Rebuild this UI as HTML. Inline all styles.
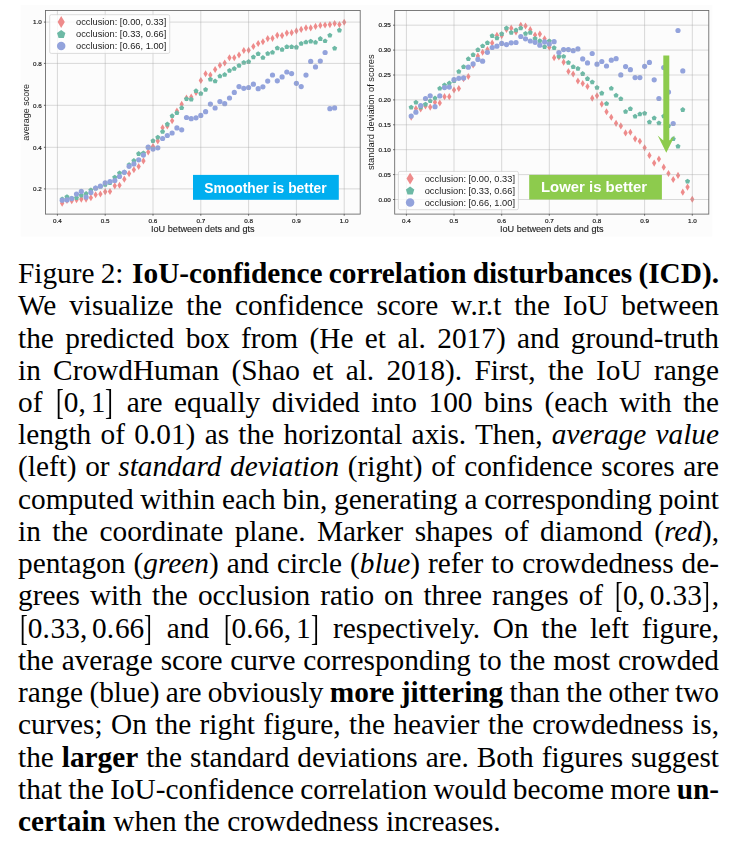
<!DOCTYPE html>
<html><head><meta charset="utf-8"><title>Figure 2</title>
<style>
html,body{margin:0;padding:0;background:#fff}
body{position:relative;width:738px;height:848px;overflow:hidden;font-family:"Liberation Serif",serif;color:#000}
.l{position:absolute;left:18.0px;height:32.23px;line-height:32.23px;font-size:29.32px;white-space:nowrap}.m{letter-spacing:0}.bo,.bc{display:inline-block;transform:scale(0.8,1.23)}.bo{transform-origin:100% 57%}.bc{transform-origin:0% 57%}.p{letter-spacing:0.028em}.ts{display:inline-block;width:0.167em}.cs{display:inline-block;width:2.5px}
</style></head><body>
<svg width="738" height="245" viewBox="0 0 738 245" font-family="Liberation Sans, sans-serif" style="position:absolute;left:0;top:0">
<rect x="20.7" y="5" width="691.7" height="231.6" fill="#fcfcfc"/>
<g filter="url(#b)">
<defs><filter id="b" x="-5%" y="-5%" width="110%" height="110%"><feGaussianBlur stdDeviation="0.45"/></filter></defs>
<path d="M62.2 199.6L64.3 203.2L62.2 206.7L60.0 203.2Z" fill="#ee8b8b"/>
<path d="M67.0 196.9L69.1 200.5L67.0 204.0L64.8 200.5Z" fill="#ee8b8b"/>
<path d="M71.7 197.2L73.9 200.7L71.7 204.3L69.6 200.7Z" fill="#ee8b8b"/>
<path d="M76.5 196.2L78.7 199.8L76.5 203.3L74.4 199.8Z" fill="#ee8b8b"/>
<path d="M81.3 195.6L83.5 199.1L81.3 202.7L79.1 199.1Z" fill="#ee8b8b"/>
<path d="M86.1 195.6L88.2 199.1L86.1 202.7L83.9 199.1Z" fill="#ee8b8b"/>
<path d="M90.9 194.2L93.0 197.8L90.9 201.3L88.7 197.8Z" fill="#ee8b8b"/>
<path d="M95.6 191.2L97.8 194.8L95.6 198.3L93.5 194.8Z" fill="#ee8b8b"/>
<path d="M100.4 190.4L102.6 194.0L100.4 197.5L98.3 194.0Z" fill="#ee8b8b"/>
<path d="M105.2 188.2L107.4 191.8L105.2 195.3L103.0 191.8Z" fill="#ee8b8b"/>
<path d="M110.0 188.0L112.1 191.5L110.0 195.1L107.8 191.5Z" fill="#ee8b8b"/>
<path d="M114.8 182.3L116.9 185.8L114.8 189.4L112.6 185.8Z" fill="#ee8b8b"/>
<path d="M119.5 181.7L121.7 185.3L119.5 188.8L117.4 185.3Z" fill="#ee8b8b"/>
<path d="M124.3 175.6L126.5 179.2L124.3 182.7L122.2 179.2Z" fill="#ee8b8b"/>
<path d="M129.1 170.1L131.2 173.6L129.1 177.2L126.9 173.6Z" fill="#ee8b8b"/>
<path d="M133.9 166.2L136.0 169.7L133.9 173.3L131.7 169.7Z" fill="#ee8b8b"/>
<path d="M138.7 163.0L140.8 166.6L138.7 170.1L136.5 166.6Z" fill="#ee8b8b"/>
<path d="M143.4 157.3L145.6 160.9L143.4 164.4L141.3 160.9Z" fill="#ee8b8b"/>
<path d="M148.2 148.4L150.4 152.0L148.2 155.6L146.1 152.0Z" fill="#ee8b8b"/>
<path d="M153.0 143.0L155.2 146.6L153.0 150.2L150.8 146.6Z" fill="#ee8b8b"/>
<path d="M157.8 137.3L159.9 140.9L157.8 144.5L155.6 140.9Z" fill="#ee8b8b"/>
<path d="M162.6 124.2L164.7 127.7L162.6 131.2L160.4 127.7Z" fill="#ee8b8b"/>
<path d="M167.3 122.4L169.5 125.9L167.3 129.5L165.2 125.9Z" fill="#ee8b8b"/>
<path d="M172.1 117.2L174.3 120.8L172.1 124.3L170.0 120.8Z" fill="#ee8b8b"/>
<path d="M176.9 107.5L179.1 111.1L176.9 114.6L174.8 111.1Z" fill="#ee8b8b"/>
<path d="M181.7 100.8L183.8 104.3L181.7 107.8L179.5 104.3Z" fill="#ee8b8b"/>
<path d="M186.5 94.5L188.6 98.0L186.5 101.5L184.3 98.0Z" fill="#ee8b8b"/>
<path d="M191.2 93.5L193.4 97.0L191.2 100.5L189.1 97.0Z" fill="#ee8b8b"/>
<path d="M196.0 89.0L198.2 92.5L196.0 96.0L193.9 92.5Z" fill="#ee8b8b"/>
<path d="M200.8 77.0L203.0 80.6L200.8 84.1L198.7 80.6Z" fill="#ee8b8b"/>
<path d="M205.6 70.2L207.7 73.7L205.6 77.2L203.4 73.7Z" fill="#ee8b8b"/>
<path d="M210.4 71.5L212.5 75.1L210.4 78.6L208.2 75.1Z" fill="#ee8b8b"/>
<path d="M215.1 66.0L217.3 69.6L215.1 73.1L213.0 69.6Z" fill="#ee8b8b"/>
<path d="M219.9 61.7L222.1 65.2L219.9 68.8L217.8 65.2Z" fill="#ee8b8b"/>
<path d="M224.7 59.4L226.9 62.9L224.7 66.5L222.6 62.9Z" fill="#ee8b8b"/>
<path d="M229.5 54.2L231.6 57.7L229.5 61.2L227.3 57.7Z" fill="#ee8b8b"/>
<path d="M234.3 54.2L236.4 57.7L234.3 61.2L232.1 57.7Z" fill="#ee8b8b"/>
<path d="M239.0 51.5L241.2 55.0L239.0 58.5L236.9 55.0Z" fill="#ee8b8b"/>
<path d="M243.8 46.9L246.0 50.4L243.8 53.9L241.7 50.4Z" fill="#ee8b8b"/>
<path d="M248.6 46.7L250.8 50.2L248.6 53.8L246.5 50.2Z" fill="#ee8b8b"/>
<path d="M253.4 43.0L255.5 46.5L253.4 50.1L251.2 46.5Z" fill="#ee8b8b"/>
<path d="M258.2 40.0L260.3 43.5L258.2 47.1L256.0 43.5Z" fill="#ee8b8b"/>
<path d="M262.9 38.2L265.1 41.7L262.9 45.3L260.8 41.7Z" fill="#ee8b8b"/>
<path d="M267.7 35.1L269.9 38.6L267.7 42.2L265.6 38.6Z" fill="#ee8b8b"/>
<path d="M272.5 34.8L274.6 38.3L272.5 41.9L270.4 38.3Z" fill="#ee8b8b"/>
<path d="M277.3 31.8L279.4 35.3L277.3 38.9L275.1 35.3Z" fill="#ee8b8b"/>
<path d="M282.1 32.1L284.2 35.6L282.1 39.2L279.9 35.6Z" fill="#ee8b8b"/>
<path d="M286.8 29.6L289.0 33.1L286.8 36.7L284.7 33.1Z" fill="#ee8b8b"/>
<path d="M291.6 29.1L293.8 32.7L291.6 36.2L289.5 32.7Z" fill="#ee8b8b"/>
<path d="M296.4 27.3L298.5 30.9L296.4 34.4L294.2 30.9Z" fill="#ee8b8b"/>
<path d="M301.2 25.8L303.3 29.4L301.2 32.9L299.0 29.4Z" fill="#ee8b8b"/>
<path d="M306.0 24.3L308.1 27.9L306.0 31.4L303.8 27.9Z" fill="#ee8b8b"/>
<path d="M310.7 24.3L312.9 27.9L310.7 31.4L308.6 27.9Z" fill="#ee8b8b"/>
<path d="M315.5 22.8L317.7 26.4L315.5 29.9L313.4 26.4Z" fill="#ee8b8b"/>
<path d="M320.3 21.8L322.4 25.4L320.3 28.9L318.2 25.4Z" fill="#ee8b8b"/>
<path d="M325.1 21.4L327.2 24.9L325.1 28.5L322.9 24.9Z" fill="#ee8b8b"/>
<path d="M329.9 21.1L332.0 24.6L329.9 28.2L327.7 24.6Z" fill="#ee8b8b"/>
<path d="M334.6 19.9L336.8 23.4L334.6 27.0L332.5 23.4Z" fill="#ee8b8b"/>
<path d="M339.4 20.9L341.6 24.5L339.4 28.0L337.3 24.5Z" fill="#ee8b8b"/>
<path d="M344.2 18.7L346.3 22.2L344.2 25.8L342.1 22.2Z" fill="#ee8b8b"/>
<path d="M62.2 196.5L64.7 198.3L63.7 201.2L60.6 201.2L59.7 198.3Z" fill="#6db9a5"/>
<path d="M67.0 194.2L69.5 196.0L68.5 198.9L65.4 198.9L64.4 196.0Z" fill="#6db9a5"/>
<path d="M71.7 195.8L74.3 197.6L73.3 200.6L70.2 200.6L69.2 197.6Z" fill="#6db9a5"/>
<path d="M76.5 195.1L79.0 196.9L78.1 199.9L75.0 199.9L74.0 196.9Z" fill="#6db9a5"/>
<path d="M81.3 192.8L83.8 194.6L82.9 197.6L79.7 197.6L78.8 194.6Z" fill="#6db9a5"/>
<path d="M86.1 191.0L88.6 192.9L87.6 195.8L84.5 195.8L83.6 192.9Z" fill="#6db9a5"/>
<path d="M90.9 187.4L93.4 189.2L92.4 192.2L89.3 192.2L88.3 189.2Z" fill="#6db9a5"/>
<path d="M95.6 185.6L98.2 187.4L97.2 190.4L94.1 190.4L93.1 187.4Z" fill="#6db9a5"/>
<path d="M100.4 183.9L102.9 185.7L102.0 188.6L98.9 188.6L97.9 185.7Z" fill="#6db9a5"/>
<path d="M105.2 182.0L107.7 183.8L106.8 186.8L103.6 186.8L102.7 183.8Z" fill="#6db9a5"/>
<path d="M110.0 180.2L112.5 182.0L111.5 185.0L108.4 185.0L107.5 182.0Z" fill="#6db9a5"/>
<path d="M114.8 174.8L117.3 176.6L116.3 179.6L113.2 179.6L112.2 176.6Z" fill="#6db9a5"/>
<path d="M119.5 170.4L122.1 172.3L121.1 175.2L118.0 175.2L117.0 172.3Z" fill="#6db9a5"/>
<path d="M124.3 169.6L126.8 171.5L125.9 174.4L122.8 174.4L121.8 171.5Z" fill="#6db9a5"/>
<path d="M129.1 162.3L131.6 164.1L130.7 167.1L127.5 167.1L126.6 164.1Z" fill="#6db9a5"/>
<path d="M133.9 158.1L136.4 159.9L135.4 162.9L132.3 162.9L131.4 159.9Z" fill="#6db9a5"/>
<path d="M138.7 151.1L141.2 152.9L140.2 155.9L137.1 155.9L136.1 152.9Z" fill="#6db9a5"/>
<path d="M143.4 150.4L146.0 152.2L145.0 155.2L141.9 155.2L140.9 152.2Z" fill="#6db9a5"/>
<path d="M148.2 144.8L150.7 146.7L149.8 149.6L146.7 149.6L145.7 146.7Z" fill="#6db9a5"/>
<path d="M153.0 138.2L155.5 140.1L154.6 143.0L151.4 143.0L150.5 140.1Z" fill="#6db9a5"/>
<path d="M157.8 134.8L160.3 136.6L159.3 139.5L156.2 139.5L155.3 136.6Z" fill="#6db9a5"/>
<path d="M162.6 129.0L165.1 130.9L164.1 133.8L161.0 133.8L160.0 130.9Z" fill="#6db9a5"/>
<path d="M167.3 121.6L169.9 123.5L168.9 126.4L165.8 126.4L164.8 123.5Z" fill="#6db9a5"/>
<path d="M172.1 113.3L174.6 115.2L173.7 118.1L170.6 118.1L169.6 115.2Z" fill="#6db9a5"/>
<path d="M176.9 110.3L179.4 112.2L178.5 115.1L175.3 115.1L174.4 112.2Z" fill="#6db9a5"/>
<path d="M181.7 105.3L184.2 107.2L183.2 110.1L180.1 110.1L179.2 107.2Z" fill="#6db9a5"/>
<path d="M186.5 96.3L189.0 98.2L188.0 101.1L184.9 101.1L183.9 98.2Z" fill="#6db9a5"/>
<path d="M191.2 96.8L193.8 98.7L192.8 101.6L189.7 101.6L188.7 98.7Z" fill="#6db9a5"/>
<path d="M196.0 88.3L198.5 90.2L197.6 93.1L194.5 93.1L193.5 90.2Z" fill="#6db9a5"/>
<path d="M200.8 90.9L203.3 92.8L202.4 95.7L199.2 95.7L198.3 92.8Z" fill="#6db9a5"/>
<path d="M205.6 86.9L208.1 88.8L207.1 91.7L204.0 91.7L203.1 88.8Z" fill="#6db9a5"/>
<path d="M210.4 76.8L212.9 78.6L211.9 81.5L208.8 81.5L207.8 78.6Z" fill="#6db9a5"/>
<path d="M215.1 78.5L217.7 80.4L216.7 83.3L213.6 83.3L212.6 80.4Z" fill="#6db9a5"/>
<path d="M219.9 73.5L222.4 75.4L221.5 78.3L218.4 78.3L217.4 75.4Z" fill="#6db9a5"/>
<path d="M224.7 72.0L227.2 73.9L226.3 76.8L223.1 76.8L222.2 73.9Z" fill="#6db9a5"/>
<path d="M229.5 67.9L232.0 69.8L231.0 72.7L227.9 72.7L227.0 69.8Z" fill="#6db9a5"/>
<path d="M234.3 66.0L236.8 67.9L235.8 70.8L232.7 70.8L231.7 67.9Z" fill="#6db9a5"/>
<path d="M239.0 62.9L241.6 64.8L240.6 67.7L237.5 67.7L236.5 64.8Z" fill="#6db9a5"/>
<path d="M243.8 60.0L246.3 61.8L245.4 64.7L242.3 64.7L241.3 61.8Z" fill="#6db9a5"/>
<path d="M248.6 59.1L251.1 60.9L250.2 63.9L247.0 63.9L246.1 60.9Z" fill="#6db9a5"/>
<path d="M253.4 54.5L255.9 56.3L254.9 59.2L251.8 59.2L250.9 56.3Z" fill="#6db9a5"/>
<path d="M258.2 51.2L260.7 53.0L259.7 56.0L256.6 56.0L255.6 53.0Z" fill="#6db9a5"/>
<path d="M262.9 55.0L265.5 56.9L264.5 59.8L261.4 59.8L260.4 56.9Z" fill="#6db9a5"/>
<path d="M267.7 50.9L270.2 52.7L269.3 55.7L266.2 55.7L265.2 52.7Z" fill="#6db9a5"/>
<path d="M272.5 49.8L275.0 51.7L274.1 54.6L270.9 54.6L270.0 51.7Z" fill="#6db9a5"/>
<path d="M277.3 45.5L279.8 47.3L278.8 50.3L275.7 50.3L274.8 47.3Z" fill="#6db9a5"/>
<path d="M282.1 47.0L284.6 48.8L283.6 51.8L280.5 51.8L279.5 48.8Z" fill="#6db9a5"/>
<path d="M286.8 44.2L289.4 46.0L288.4 49.0L285.3 49.0L284.3 46.0Z" fill="#6db9a5"/>
<path d="M291.6 44.3L294.1 46.1L293.2 49.1L290.1 49.1L289.1 46.1Z" fill="#6db9a5"/>
<path d="M296.4 44.6L298.9 46.4L298.0 49.4L294.8 49.4L293.9 46.4Z" fill="#6db9a5"/>
<path d="M301.2 40.9L303.7 42.7L302.7 45.7L299.6 45.7L298.7 42.7Z" fill="#6db9a5"/>
<path d="M306.0 39.5L308.5 41.4L307.5 44.3L304.4 44.3L303.4 41.4Z" fill="#6db9a5"/>
<path d="M310.7 38.7L313.3 40.5L312.3 43.4L309.2 43.4L308.2 40.5Z" fill="#6db9a5"/>
<path d="M315.5 39.8L318.0 41.7L317.1 44.6L314.0 44.6L313.0 41.7Z" fill="#6db9a5"/>
<path d="M320.3 36.1L322.8 37.9L321.9 40.9L318.7 40.9L317.8 37.9Z" fill="#6db9a5"/>
<path d="M325.1 38.4L327.6 40.2L326.6 43.1L323.5 43.1L322.6 40.2Z" fill="#6db9a5"/>
<path d="M329.9 32.7L332.4 34.5L331.4 37.5L328.3 37.5L327.3 34.5Z" fill="#6db9a5"/>
<path d="M334.6 45.8L337.2 47.6L336.2 50.6L333.1 50.6L332.1 47.6Z" fill="#6db9a5"/>
<path d="M339.4 27.6L341.9 29.5L341.0 32.4L337.9 32.4L336.9 29.5Z" fill="#6db9a5"/>
<circle cx="62.2" cy="200.2" r="2.6" fill="#93a3dc"/>
<circle cx="67.0" cy="199.9" r="2.6" fill="#93a3dc"/>
<circle cx="71.7" cy="198.6" r="2.6" fill="#93a3dc"/>
<circle cx="76.5" cy="194.1" r="2.6" fill="#93a3dc"/>
<circle cx="81.3" cy="191.4" r="2.6" fill="#93a3dc"/>
<circle cx="86.1" cy="197.1" r="2.6" fill="#93a3dc"/>
<circle cx="90.9" cy="192.6" r="2.6" fill="#93a3dc"/>
<circle cx="95.6" cy="188.0" r="2.6" fill="#93a3dc"/>
<circle cx="100.4" cy="186.2" r="2.6" fill="#93a3dc"/>
<circle cx="105.2" cy="182.8" r="2.6" fill="#93a3dc"/>
<circle cx="110.0" cy="181.5" r="2.6" fill="#93a3dc"/>
<circle cx="114.8" cy="180.5" r="2.6" fill="#93a3dc"/>
<circle cx="119.5" cy="176.5" r="2.6" fill="#93a3dc"/>
<circle cx="124.3" cy="172.3" r="2.6" fill="#93a3dc"/>
<circle cx="129.1" cy="166.3" r="2.6" fill="#93a3dc"/>
<circle cx="133.9" cy="163.9" r="2.6" fill="#93a3dc"/>
<circle cx="138.7" cy="159.8" r="2.6" fill="#93a3dc"/>
<circle cx="143.4" cy="155.1" r="2.6" fill="#93a3dc"/>
<circle cx="148.2" cy="147.2" r="2.6" fill="#93a3dc"/>
<circle cx="153.0" cy="149.1" r="2.6" fill="#93a3dc"/>
<circle cx="157.8" cy="147.8" r="2.6" fill="#93a3dc"/>
<circle cx="162.6" cy="138.5" r="2.6" fill="#93a3dc"/>
<circle cx="167.3" cy="135.5" r="2.6" fill="#93a3dc"/>
<circle cx="172.1" cy="133.0" r="2.6" fill="#93a3dc"/>
<circle cx="176.9" cy="127.9" r="2.6" fill="#93a3dc"/>
<circle cx="181.7" cy="129.8" r="2.6" fill="#93a3dc"/>
<circle cx="186.5" cy="117.5" r="2.6" fill="#93a3dc"/>
<circle cx="191.2" cy="118.7" r="2.6" fill="#93a3dc"/>
<circle cx="196.0" cy="117.8" r="2.6" fill="#93a3dc"/>
<circle cx="200.8" cy="115.4" r="2.6" fill="#93a3dc"/>
<circle cx="205.6" cy="111.7" r="2.6" fill="#93a3dc"/>
<circle cx="210.4" cy="104.1" r="2.6" fill="#93a3dc"/>
<circle cx="215.1" cy="108.0" r="2.6" fill="#93a3dc"/>
<circle cx="219.9" cy="101.6" r="2.6" fill="#93a3dc"/>
<circle cx="224.7" cy="103.7" r="2.6" fill="#93a3dc"/>
<circle cx="229.5" cy="98.0" r="2.6" fill="#93a3dc"/>
<circle cx="234.3" cy="92.4" r="2.6" fill="#93a3dc"/>
<circle cx="239.0" cy="86.6" r="2.6" fill="#93a3dc"/>
<circle cx="243.8" cy="88.3" r="2.6" fill="#93a3dc"/>
<circle cx="248.6" cy="87.5" r="2.6" fill="#93a3dc"/>
<circle cx="253.4" cy="84.2" r="2.6" fill="#93a3dc"/>
<circle cx="258.2" cy="88.7" r="2.6" fill="#93a3dc"/>
<circle cx="262.9" cy="86.8" r="2.6" fill="#93a3dc"/>
<circle cx="267.7" cy="81.1" r="2.6" fill="#93a3dc"/>
<circle cx="272.5" cy="75.0" r="2.6" fill="#93a3dc"/>
<circle cx="277.3" cy="80.8" r="2.6" fill="#93a3dc"/>
<circle cx="282.1" cy="76.9" r="2.6" fill="#93a3dc"/>
<circle cx="286.8" cy="72.0" r="2.6" fill="#93a3dc"/>
<circle cx="291.6" cy="73.6" r="2.6" fill="#93a3dc"/>
<circle cx="296.4" cy="83.3" r="2.6" fill="#93a3dc"/>
<circle cx="301.2" cy="86.6" r="2.6" fill="#93a3dc"/>
<circle cx="306.0" cy="75.1" r="2.6" fill="#93a3dc"/>
<circle cx="310.7" cy="61.4" r="2.6" fill="#93a3dc"/>
<circle cx="315.5" cy="66.9" r="2.6" fill="#93a3dc"/>
<circle cx="320.3" cy="61.1" r="2.6" fill="#93a3dc"/>
<circle cx="325.1" cy="52.5" r="2.6" fill="#93a3dc"/>
<circle cx="329.9" cy="108.7" r="2.6" fill="#93a3dc"/>
<circle cx="334.6" cy="107.9" r="2.6" fill="#93a3dc"/>
<line x1="57.4" y1="10.5" x2="57.4" y2="214.1" stroke="#9c9c9c" stroke-width="0.7" stroke-opacity="0.55"/>
<line x1="105.2" y1="10.5" x2="105.2" y2="214.1" stroke="#9c9c9c" stroke-width="0.7" stroke-opacity="0.55"/>
<line x1="153.0" y1="10.5" x2="153.0" y2="214.1" stroke="#9c9c9c" stroke-width="0.7" stroke-opacity="0.55"/>
<line x1="200.8" y1="10.5" x2="200.8" y2="214.1" stroke="#9c9c9c" stroke-width="0.7" stroke-opacity="0.55"/>
<line x1="248.6" y1="10.5" x2="248.6" y2="214.1" stroke="#9c9c9c" stroke-width="0.7" stroke-opacity="0.55"/>
<line x1="296.4" y1="10.5" x2="296.4" y2="214.1" stroke="#9c9c9c" stroke-width="0.7" stroke-opacity="0.55"/>
<line x1="344.2" y1="10.5" x2="344.2" y2="214.1" stroke="#9c9c9c" stroke-width="0.7" stroke-opacity="0.55"/>
<line x1="45.5" y1="188.9" x2="360.2" y2="188.9" stroke="#a8a8a8" stroke-width="1.0" stroke-opacity="0.42"/>
<line x1="45.5" y1="147.3" x2="360.2" y2="147.3" stroke="#a8a8a8" stroke-width="1.0" stroke-opacity="0.42"/>
<line x1="45.5" y1="105.3" x2="360.2" y2="105.3" stroke="#a8a8a8" stroke-width="1.0" stroke-opacity="0.42"/>
<line x1="45.5" y1="63.4" x2="360.2" y2="63.4" stroke="#a8a8a8" stroke-width="1.0" stroke-opacity="0.42"/>
<line x1="45.5" y1="22.1" x2="360.2" y2="22.1" stroke="#a8a8a8" stroke-width="1.0" stroke-opacity="0.42"/>
<rect x="45.5" y="10.5" width="314.7" height="203.6" fill="none" stroke="#666666" stroke-width="0.85"/>
<line x1="57.4" y1="214.1" x2="57.4" y2="215.7" stroke="#444" stroke-width="0.8"/>
<text x="57.4" y="222.79999999999998" font-size="6.1" text-anchor="middle" textLength="8.8" lengthAdjust="spacingAndGlyphs" fill="#1c1c1c" stroke="#1c1c1c" stroke-width="0.18">0.4</text>
<line x1="105.2" y1="214.1" x2="105.2" y2="215.7" stroke="#444" stroke-width="0.8"/>
<text x="105.2" y="222.79999999999998" font-size="6.1" text-anchor="middle" textLength="8.8" lengthAdjust="spacingAndGlyphs" fill="#1c1c1c" stroke="#1c1c1c" stroke-width="0.18">0.5</text>
<line x1="153.0" y1="214.1" x2="153.0" y2="215.7" stroke="#444" stroke-width="0.8"/>
<text x="153.0" y="222.79999999999998" font-size="6.1" text-anchor="middle" textLength="8.8" lengthAdjust="spacingAndGlyphs" fill="#1c1c1c" stroke="#1c1c1c" stroke-width="0.18">0.6</text>
<line x1="200.8" y1="214.1" x2="200.8" y2="215.7" stroke="#444" stroke-width="0.8"/>
<text x="200.8" y="222.79999999999998" font-size="6.1" text-anchor="middle" textLength="8.8" lengthAdjust="spacingAndGlyphs" fill="#1c1c1c" stroke="#1c1c1c" stroke-width="0.18">0.7</text>
<line x1="248.6" y1="214.1" x2="248.6" y2="215.7" stroke="#444" stroke-width="0.8"/>
<text x="248.6" y="222.79999999999998" font-size="6.1" text-anchor="middle" textLength="8.8" lengthAdjust="spacingAndGlyphs" fill="#1c1c1c" stroke="#1c1c1c" stroke-width="0.18">0.8</text>
<line x1="296.4" y1="214.1" x2="296.4" y2="215.7" stroke="#444" stroke-width="0.8"/>
<text x="296.4" y="222.79999999999998" font-size="6.1" text-anchor="middle" textLength="8.8" lengthAdjust="spacingAndGlyphs" fill="#1c1c1c" stroke="#1c1c1c" stroke-width="0.18">0.9</text>
<line x1="344.2" y1="214.1" x2="344.2" y2="215.7" stroke="#444" stroke-width="0.8"/>
<text x="344.2" y="222.79999999999998" font-size="6.1" text-anchor="middle" textLength="8.8" lengthAdjust="spacingAndGlyphs" fill="#1c1c1c" stroke="#1c1c1c" stroke-width="0.18">1.0</text>
<line x1="43.9" y1="188.9" x2="45.5" y2="188.9" stroke="#444" stroke-width="0.8"/>
<text x="41.7" y="191.1" font-size="6.1" text-anchor="end" textLength="8.8" lengthAdjust="spacingAndGlyphs" fill="#1c1c1c" stroke="#1c1c1c" stroke-width="0.18">0.2</text>
<line x1="43.9" y1="147.3" x2="45.5" y2="147.3" stroke="#444" stroke-width="0.8"/>
<text x="41.7" y="149.5" font-size="6.1" text-anchor="end" textLength="8.8" lengthAdjust="spacingAndGlyphs" fill="#1c1c1c" stroke="#1c1c1c" stroke-width="0.18">0.4</text>
<line x1="43.9" y1="105.3" x2="45.5" y2="105.3" stroke="#444" stroke-width="0.8"/>
<text x="41.7" y="107.5" font-size="6.1" text-anchor="end" textLength="8.8" lengthAdjust="spacingAndGlyphs" fill="#1c1c1c" stroke="#1c1c1c" stroke-width="0.18">0.6</text>
<line x1="43.9" y1="63.4" x2="45.5" y2="63.4" stroke="#444" stroke-width="0.8"/>
<text x="41.7" y="65.5" font-size="6.1" text-anchor="end" textLength="8.8" lengthAdjust="spacingAndGlyphs" fill="#1c1c1c" stroke="#1c1c1c" stroke-width="0.18">0.8</text>
<line x1="43.9" y1="22.1" x2="45.5" y2="22.1" stroke="#444" stroke-width="0.8"/>
<text x="41.7" y="24.2" font-size="6.1" text-anchor="end" textLength="8.8" lengthAdjust="spacingAndGlyphs" fill="#1c1c1c" stroke="#1c1c1c" stroke-width="0.18">1.0</text>
<text x="202.8" y="232" font-size="9.3" text-anchor="middle" textLength="103.7" lengthAdjust="spacingAndGlyphs" fill="#1c1c1c" stroke="#1c1c1c" stroke-width="0.12">IoU between dets and gts</text>
<text transform="translate(29.0 112.3) rotate(-90)" font-size="9.3" text-anchor="middle" textLength="56.8" lengthAdjust="spacingAndGlyphs" fill="#1c1c1c">average score</text>
<rect x="49.7" y="14.7" width="120.0" height="38.7" rx="1.6" fill="#fff" fill-opacity="0.8" stroke="#cfcfcf" stroke-width="0.7"/>
<path d="M61.2 16.1L64.8 22.0L61.2 27.9L57.6 22.0Z" fill="#ee8b8b"/>
<path d="M61.2 29.9L65.4 32.9L63.8 37.9L58.6 37.9L57.0 32.9Z" fill="#6db9a5"/>
<circle cx="61.2" cy="46.1" r="4.25" fill="#93a3dc"/>
<text x="76.0" y="25.0" font-size="9.3" textLength="90.3" lengthAdjust="spacingAndGlyphs" fill="#1c1c1c">occlusion: [0.00, 0.33]</text>
<text x="76.0" y="37.0" font-size="9.3" textLength="90.3" lengthAdjust="spacingAndGlyphs" fill="#1c1c1c">occlusion: [0.33, 0.66]</text>
<text x="76.0" y="49.1" font-size="9.3" textLength="90.3" lengthAdjust="spacingAndGlyphs" fill="#1c1c1c">occlusion: [0.66, 1.00]</text>
<rect x="193" y="174.9" width="145.8" height="24.9" fill="#00aeef"/>
<text x="204.3" y="192.75" font-size="14.6" font-weight="bold" fill="#fff" textLength="122.3" lengthAdjust="spacingAndGlyphs">Smoother is better</text>
<path d="M411.2 113.6L413.3 117.1L411.2 120.7L409.0 117.1Z" fill="#ee8b8b"/>
<path d="M415.9 105.1L418.1 108.6L415.9 112.2L413.8 108.6Z" fill="#ee8b8b"/>
<path d="M420.7 105.4L422.8 108.9L420.7 112.5L418.5 108.9Z" fill="#ee8b8b"/>
<path d="M425.5 102.4L427.6 105.9L425.5 109.5L423.3 105.9Z" fill="#ee8b8b"/>
<path d="M430.2 103.6L432.4 107.1L430.2 110.7L428.1 107.1Z" fill="#ee8b8b"/>
<path d="M435.0 98.6L437.1 102.2L435.0 105.7L432.8 102.2Z" fill="#ee8b8b"/>
<path d="M439.8 99.4L441.9 102.9L439.8 106.5L437.6 102.9Z" fill="#ee8b8b"/>
<path d="M444.5 93.1L446.7 96.7L444.5 100.2L442.4 96.7Z" fill="#ee8b8b"/>
<path d="M449.3 93.1L451.4 96.7L449.3 100.2L447.1 96.7Z" fill="#ee8b8b"/>
<path d="M454.0 86.4L456.2 90.0L454.0 93.5L451.9 90.0Z" fill="#ee8b8b"/>
<path d="M458.8 84.9L461.0 88.5L458.8 92.0L456.7 88.5Z" fill="#ee8b8b"/>
<path d="M463.6 75.2L465.7 78.8L463.6 82.3L461.4 78.8Z" fill="#ee8b8b"/>
<path d="M468.3 73.0L470.5 76.6L468.3 80.1L466.2 76.6Z" fill="#ee8b8b"/>
<path d="M473.1 61.4L475.3 64.9L473.1 68.5L471.0 64.9Z" fill="#ee8b8b"/>
<path d="M477.9 52.4L480.0 56.0L477.9 59.5L475.7 56.0Z" fill="#ee8b8b"/>
<path d="M482.6 48.7L484.8 52.3L482.6 55.8L480.5 52.3Z" fill="#ee8b8b"/>
<path d="M487.4 46.0L489.6 49.6L487.4 53.1L485.3 49.6Z" fill="#ee8b8b"/>
<path d="M492.2 39.5L494.3 43.0L492.2 46.6L490.0 43.0Z" fill="#ee8b8b"/>
<path d="M496.9 31.8L499.1 35.3L496.9 38.9L494.8 35.3Z" fill="#ee8b8b"/>
<path d="M501.7 32.1L503.8 35.6L501.7 39.2L499.6 35.6Z" fill="#ee8b8b"/>
<path d="M506.5 25.8L508.6 29.4L506.5 32.9L504.3 29.4Z" fill="#ee8b8b"/>
<path d="M511.2 24.6L513.4 28.2L511.2 31.7L509.1 28.2Z" fill="#ee8b8b"/>
<path d="M516.0 28.5L518.1 32.1L516.0 35.6L513.8 32.1Z" fill="#ee8b8b"/>
<path d="M520.8 21.7L522.9 25.2L520.8 28.8L518.6 25.2Z" fill="#ee8b8b"/>
<path d="M525.5 22.4L527.7 25.9L525.5 29.5L523.4 25.9Z" fill="#ee8b8b"/>
<path d="M530.3 26.1L532.4 29.7L530.3 33.2L528.1 29.7Z" fill="#ee8b8b"/>
<path d="M535.1 31.5L537.2 35.0L535.1 38.6L532.9 35.0Z" fill="#ee8b8b"/>
<path d="M539.8 30.6L542.0 34.1L539.8 37.7L537.7 34.1Z" fill="#ee8b8b"/>
<path d="M544.6 35.2L546.7 38.8L544.6 42.3L542.4 38.8Z" fill="#ee8b8b"/>
<path d="M549.3 43.7L551.5 47.3L549.3 50.8L547.2 47.3Z" fill="#ee8b8b"/>
<path d="M554.1 54.1L556.3 57.7L554.1 61.2L552.0 57.7Z" fill="#ee8b8b"/>
<path d="M558.9 53.4L561.0 57.0L558.9 60.5L556.7 57.0Z" fill="#ee8b8b"/>
<path d="M563.6 58.6L565.8 62.2L563.6 65.7L561.5 62.2Z" fill="#ee8b8b"/>
<path d="M568.4 68.0L570.6 71.6L568.4 75.1L566.3 71.6Z" fill="#ee8b8b"/>
<path d="M573.2 70.5L575.3 74.1L573.2 77.6L571.0 74.1Z" fill="#ee8b8b"/>
<path d="M577.9 77.4L580.1 80.9L577.9 84.5L575.8 80.9Z" fill="#ee8b8b"/>
<path d="M582.7 79.9L584.9 83.5L582.7 87.0L580.6 83.5Z" fill="#ee8b8b"/>
<path d="M587.5 82.9L589.6 86.5L587.5 90.0L585.3 86.5Z" fill="#ee8b8b"/>
<path d="M592.2 94.6L594.4 98.2L592.2 101.7L590.1 98.2Z" fill="#ee8b8b"/>
<path d="M597.0 92.2L599.1 95.8L597.0 99.3L594.9 95.8Z" fill="#ee8b8b"/>
<path d="M601.8 100.6L603.9 104.1L601.8 107.7L599.6 104.1Z" fill="#ee8b8b"/>
<path d="M606.5 108.2L608.7 111.7L606.5 115.3L604.4 111.7Z" fill="#ee8b8b"/>
<path d="M611.3 113.7L613.4 117.2L611.3 120.8L609.1 117.2Z" fill="#ee8b8b"/>
<path d="M616.1 119.8L618.2 123.3L616.1 126.9L613.9 123.3Z" fill="#ee8b8b"/>
<path d="M620.8 122.3L623.0 125.9L620.8 129.4L618.7 125.9Z" fill="#ee8b8b"/>
<path d="M625.6 129.3L627.7 132.9L625.6 136.4L623.4 132.9Z" fill="#ee8b8b"/>
<path d="M630.4 128.7L632.5 132.3L630.4 135.8L628.2 132.3Z" fill="#ee8b8b"/>
<path d="M635.1 135.3L637.3 138.8L635.1 142.4L633.0 138.8Z" fill="#ee8b8b"/>
<path d="M639.9 137.7L642.0 141.2L639.9 144.8L637.7 141.2Z" fill="#ee8b8b"/>
<path d="M644.6 144.2L646.8 147.8L644.6 151.3L642.5 147.8Z" fill="#ee8b8b"/>
<path d="M649.4 151.8L651.6 155.4L649.4 158.9L647.3 155.4Z" fill="#ee8b8b"/>
<path d="M654.2 159.6L656.3 163.1L654.2 166.7L652.0 163.1Z" fill="#ee8b8b"/>
<path d="M658.9 155.4L661.1 159.0L658.9 162.5L656.8 159.0Z" fill="#ee8b8b"/>
<path d="M663.7 163.6L665.9 167.2L663.7 170.7L661.6 167.2Z" fill="#ee8b8b"/>
<path d="M668.5 170.0L670.6 173.6L668.5 177.1L666.3 173.6Z" fill="#ee8b8b"/>
<path d="M673.2 176.0L675.4 179.5L673.2 183.1L671.1 179.5Z" fill="#ee8b8b"/>
<path d="M678.0 171.8L680.2 175.4L678.0 178.9L675.9 175.4Z" fill="#ee8b8b"/>
<path d="M682.8 188.6L684.9 192.2L682.8 195.7L680.6 192.2Z" fill="#ee8b8b"/>
<path d="M687.5 183.6L689.7 187.1L687.5 190.7L685.4 187.1Z" fill="#ee8b8b"/>
<path d="M692.3 195.7L694.4 199.2L692.3 202.8L690.1 199.2Z" fill="#ee8b8b"/>
<path d="M411.2 104.8L413.7 106.6L412.7 109.6L409.6 109.6L408.6 106.6Z" fill="#6db9a5"/>
<path d="M415.9 99.8L418.5 101.7L417.5 104.6L414.4 104.6L413.4 101.7Z" fill="#6db9a5"/>
<path d="M420.7 104.5L423.2 106.3L422.3 109.3L419.1 109.3L418.2 106.3Z" fill="#6db9a5"/>
<path d="M425.5 101.8L428.0 103.6L427.0 106.6L423.9 106.6L422.9 103.6Z" fill="#6db9a5"/>
<path d="M430.2 98.4L432.7 100.2L431.8 103.1L428.7 103.1L427.7 100.2Z" fill="#6db9a5"/>
<path d="M435.0 95.5L437.5 97.4L436.5 100.3L433.4 100.3L432.5 97.4Z" fill="#6db9a5"/>
<path d="M439.8 85.8L442.3 87.7L441.3 90.6L438.2 90.6L437.2 87.7Z" fill="#6db9a5"/>
<path d="M444.5 82.4L447.0 84.2L446.1 87.2L443.0 87.2L442.0 84.2Z" fill="#6db9a5"/>
<path d="M449.3 80.6L451.8 82.4L450.8 85.4L447.7 85.4L446.8 82.4Z" fill="#6db9a5"/>
<path d="M454.0 78.2L456.6 80.1L455.6 83.0L452.5 83.0L451.5 80.1Z" fill="#6db9a5"/>
<path d="M458.8 69.0L461.3 70.8L460.4 73.8L457.3 73.8L456.3 70.8Z" fill="#6db9a5"/>
<path d="M463.6 64.2L466.1 66.1L465.1 69.0L462.0 69.0L461.1 66.1Z" fill="#6db9a5"/>
<path d="M468.3 56.3L470.9 58.2L469.9 61.1L466.8 61.1L465.8 58.2Z" fill="#6db9a5"/>
<path d="M473.1 52.3L475.6 54.1L474.7 57.1L471.6 57.1L470.6 54.1Z" fill="#6db9a5"/>
<path d="M477.9 47.2L480.4 49.1L479.4 52.0L476.3 52.0L475.4 49.1Z" fill="#6db9a5"/>
<path d="M482.6 43.4L485.2 45.2L484.2 48.1L481.1 48.1L480.1 45.2Z" fill="#6db9a5"/>
<path d="M487.4 40.2L489.9 42.1L489.0 45.0L485.8 45.0L484.9 42.1Z" fill="#6db9a5"/>
<path d="M492.2 33.2L494.7 35.0L493.7 38.0L490.6 38.0L489.6 35.0Z" fill="#6db9a5"/>
<path d="M496.9 35.4L499.5 37.2L498.5 40.2L495.4 40.2L494.4 37.2Z" fill="#6db9a5"/>
<path d="M501.7 31.2L504.2 33.0L503.3 36.0L500.1 36.0L499.2 33.0Z" fill="#6db9a5"/>
<path d="M506.5 25.5L509.0 27.4L508.0 30.3L504.9 30.3L503.9 27.4Z" fill="#6db9a5"/>
<path d="M511.2 30.0L513.8 31.8L512.8 34.8L509.7 34.8L508.7 31.8Z" fill="#6db9a5"/>
<path d="M516.0 27.5L518.5 29.3L517.6 32.3L514.4 32.3L513.5 29.3Z" fill="#6db9a5"/>
<path d="M520.8 25.5L523.3 27.4L522.3 30.3L519.2 30.3L518.2 27.4Z" fill="#6db9a5"/>
<path d="M525.5 30.9L528.0 32.7L527.1 35.7L524.0 35.7L523.0 32.7Z" fill="#6db9a5"/>
<path d="M530.3 30.0L532.8 31.8L531.8 34.8L528.7 34.8L527.8 31.8Z" fill="#6db9a5"/>
<path d="M535.1 36.0L537.6 37.8L536.6 40.8L533.5 40.8L532.5 37.8Z" fill="#6db9a5"/>
<path d="M539.8 38.2L542.3 40.0L541.4 43.0L538.3 43.0L537.3 40.0Z" fill="#6db9a5"/>
<path d="M544.6 44.2L547.1 46.0L546.1 49.0L543.0 49.0L542.1 46.0Z" fill="#6db9a5"/>
<path d="M549.3 38.4L551.9 40.2L550.9 43.1L547.8 43.1L546.8 40.2Z" fill="#6db9a5"/>
<path d="M554.1 45.2L556.6 47.0L555.7 50.0L552.6 50.0L551.6 47.0Z" fill="#6db9a5"/>
<path d="M558.9 53.9L561.4 55.7L560.4 58.6L557.3 58.6L556.4 55.7Z" fill="#6db9a5"/>
<path d="M563.6 53.9L566.2 55.7L565.2 58.6L562.1 58.6L561.1 55.7Z" fill="#6db9a5"/>
<path d="M568.4 60.0L570.9 61.8L570.0 64.8L566.9 64.8L565.9 61.8Z" fill="#6db9a5"/>
<path d="M573.2 64.3L575.7 66.1L574.7 69.1L571.6 69.1L570.7 66.1Z" fill="#6db9a5"/>
<path d="M577.9 65.9L580.5 67.8L579.5 70.7L576.4 70.7L575.4 67.8Z" fill="#6db9a5"/>
<path d="M582.7 71.1L585.2 73.0L584.3 75.9L581.1 75.9L580.2 73.0Z" fill="#6db9a5"/>
<path d="M587.5 76.1L590.0 77.9L589.0 80.9L585.9 80.9L584.9 77.9Z" fill="#6db9a5"/>
<path d="M592.2 79.4L594.8 81.3L593.8 84.2L590.7 84.2L589.7 81.3Z" fill="#6db9a5"/>
<path d="M597.0 84.9L599.5 86.8L598.6 89.7L595.4 89.7L594.5 86.8Z" fill="#6db9a5"/>
<path d="M601.8 90.6L604.3 92.4L603.3 95.4L600.2 95.4L599.2 92.4Z" fill="#6db9a5"/>
<path d="M606.5 101.0L609.1 102.9L608.1 105.8L605.0 105.8L604.0 102.9Z" fill="#6db9a5"/>
<path d="M611.3 85.8L613.8 87.7L612.9 90.6L609.7 90.6L608.8 87.7Z" fill="#6db9a5"/>
<path d="M616.1 92.8L618.6 94.7L617.6 97.6L614.5 97.6L613.5 94.7Z" fill="#6db9a5"/>
<path d="M620.8 96.3L623.3 98.1L622.4 101.1L619.3 101.1L618.3 98.1Z" fill="#6db9a5"/>
<path d="M625.6 108.9L628.1 110.8L627.1 113.7L624.0 113.7L623.1 110.8Z" fill="#6db9a5"/>
<path d="M630.4 106.3L632.9 108.1L631.9 111.0L628.8 111.0L627.8 108.1Z" fill="#6db9a5"/>
<path d="M635.1 113.7L637.6 115.5L636.7 118.5L633.6 118.5L632.6 115.5Z" fill="#6db9a5"/>
<path d="M639.9 111.5L642.4 113.3L641.4 116.3L638.3 116.3L637.4 113.3Z" fill="#6db9a5"/>
<path d="M644.6 110.7L647.2 112.6L646.2 115.5L643.1 115.5L642.1 112.6Z" fill="#6db9a5"/>
<path d="M649.4 119.4L651.9 121.2L651.0 124.2L647.9 124.2L646.9 121.2Z" fill="#6db9a5"/>
<path d="M654.2 115.5L656.7 117.3L655.7 120.3L652.6 120.3L651.7 117.3Z" fill="#6db9a5"/>
<path d="M658.9 120.4L661.5 122.2L660.5 125.2L657.4 125.2L656.4 122.2Z" fill="#6db9a5"/>
<path d="M663.7 113.5L666.2 115.4L665.3 118.3L662.2 118.3L661.2 115.4Z" fill="#6db9a5"/>
<path d="M668.5 123.2L671.0 125.0L670.0 128.0L666.9 128.0L666.0 125.0Z" fill="#6db9a5"/>
<path d="M673.2 136.3L675.8 138.2L674.8 141.1L671.7 141.1L670.7 138.2Z" fill="#6db9a5"/>
<path d="M678.0 143.8L680.5 145.6L679.6 148.6L676.4 148.6L675.5 145.6Z" fill="#6db9a5"/>
<path d="M682.8 107.1L685.3 109.0L684.3 111.9L681.2 111.9L680.2 109.0Z" fill="#6db9a5"/>
<path d="M687.5 178.7L690.1 180.5L689.1 183.5L686.0 183.5L685.0 180.5Z" fill="#6db9a5"/>
<circle cx="411.2" cy="116.1" r="2.6" fill="#93a3dc"/>
<circle cx="415.9" cy="112.2" r="2.6" fill="#93a3dc"/>
<circle cx="420.7" cy="105.5" r="2.6" fill="#93a3dc"/>
<circle cx="425.5" cy="98.5" r="2.6" fill="#93a3dc"/>
<circle cx="430.2" cy="95.8" r="2.6" fill="#93a3dc"/>
<circle cx="435.0" cy="106.7" r="2.6" fill="#93a3dc"/>
<circle cx="439.8" cy="95.9" r="2.6" fill="#93a3dc"/>
<circle cx="444.5" cy="87.6" r="2.6" fill="#93a3dc"/>
<circle cx="449.3" cy="87.1" r="2.6" fill="#93a3dc"/>
<circle cx="454.0" cy="79.7" r="2.6" fill="#93a3dc"/>
<circle cx="458.8" cy="78.3" r="2.6" fill="#93a3dc"/>
<circle cx="463.6" cy="77.9" r="2.6" fill="#93a3dc"/>
<circle cx="468.3" cy="67.2" r="2.6" fill="#93a3dc"/>
<circle cx="473.1" cy="63.9" r="2.6" fill="#93a3dc"/>
<circle cx="477.9" cy="59.4" r="2.6" fill="#93a3dc"/>
<circle cx="482.6" cy="61.2" r="2.6" fill="#93a3dc"/>
<circle cx="487.4" cy="52.3" r="2.6" fill="#93a3dc"/>
<circle cx="492.2" cy="47.5" r="2.6" fill="#93a3dc"/>
<circle cx="496.9" cy="46.2" r="2.6" fill="#93a3dc"/>
<circle cx="501.7" cy="43.4" r="2.6" fill="#93a3dc"/>
<circle cx="506.5" cy="44.6" r="2.6" fill="#93a3dc"/>
<circle cx="511.2" cy="42.8" r="2.6" fill="#93a3dc"/>
<circle cx="516.0" cy="42.5" r="2.6" fill="#93a3dc"/>
<circle cx="520.8" cy="36.5" r="2.6" fill="#93a3dc"/>
<circle cx="525.5" cy="38.8" r="2.6" fill="#93a3dc"/>
<circle cx="530.3" cy="41.0" r="2.6" fill="#93a3dc"/>
<circle cx="535.1" cy="42.3" r="2.6" fill="#93a3dc"/>
<circle cx="539.8" cy="45.2" r="2.6" fill="#93a3dc"/>
<circle cx="544.6" cy="41.9" r="2.6" fill="#93a3dc"/>
<circle cx="549.3" cy="44.0" r="2.6" fill="#93a3dc"/>
<circle cx="554.1" cy="41.7" r="2.6" fill="#93a3dc"/>
<circle cx="558.9" cy="52.5" r="2.6" fill="#93a3dc"/>
<circle cx="563.6" cy="49.6" r="2.6" fill="#93a3dc"/>
<circle cx="568.4" cy="49.6" r="2.6" fill="#93a3dc"/>
<circle cx="573.2" cy="50.7" r="2.6" fill="#93a3dc"/>
<circle cx="577.9" cy="48.9" r="2.6" fill="#93a3dc"/>
<circle cx="582.7" cy="58.9" r="2.6" fill="#93a3dc"/>
<circle cx="587.5" cy="62.9" r="2.6" fill="#93a3dc"/>
<circle cx="592.2" cy="53.5" r="2.6" fill="#93a3dc"/>
<circle cx="597.0" cy="64.2" r="2.6" fill="#93a3dc"/>
<circle cx="601.8" cy="61.5" r="2.6" fill="#93a3dc"/>
<circle cx="606.5" cy="66.0" r="2.6" fill="#93a3dc"/>
<circle cx="611.3" cy="60.2" r="2.6" fill="#93a3dc"/>
<circle cx="616.1" cy="58.7" r="2.6" fill="#93a3dc"/>
<circle cx="620.8" cy="74.9" r="2.6" fill="#93a3dc"/>
<circle cx="625.6" cy="66.6" r="2.6" fill="#93a3dc"/>
<circle cx="630.4" cy="69.7" r="2.6" fill="#93a3dc"/>
<circle cx="635.1" cy="77.6" r="2.6" fill="#93a3dc"/>
<circle cx="639.9" cy="77.6" r="2.6" fill="#93a3dc"/>
<circle cx="644.6" cy="66.3" r="2.6" fill="#93a3dc"/>
<circle cx="649.4" cy="62.4" r="2.6" fill="#93a3dc"/>
<circle cx="654.2" cy="79.8" r="2.6" fill="#93a3dc"/>
<circle cx="658.9" cy="98.5" r="2.6" fill="#93a3dc"/>
<circle cx="663.7" cy="67.6" r="2.6" fill="#93a3dc"/>
<circle cx="668.5" cy="92.1" r="2.6" fill="#93a3dc"/>
<circle cx="673.2" cy="123.5" r="2.6" fill="#93a3dc"/>
<circle cx="678.0" cy="30.5" r="2.6" fill="#93a3dc"/>
<circle cx="682.8" cy="70.9" r="2.6" fill="#93a3dc"/>
<line x1="406.4" y1="10.5" x2="406.4" y2="214.1" stroke="#9c9c9c" stroke-width="0.7" stroke-opacity="0.55"/>
<line x1="454.0" y1="10.5" x2="454.0" y2="214.1" stroke="#9c9c9c" stroke-width="0.7" stroke-opacity="0.55"/>
<line x1="501.7" y1="10.5" x2="501.7" y2="214.1" stroke="#9c9c9c" stroke-width="0.7" stroke-opacity="0.55"/>
<line x1="549.3" y1="10.5" x2="549.3" y2="214.1" stroke="#9c9c9c" stroke-width="0.7" stroke-opacity="0.55"/>
<line x1="597.0" y1="10.5" x2="597.0" y2="214.1" stroke="#9c9c9c" stroke-width="0.7" stroke-opacity="0.55"/>
<line x1="644.6" y1="10.5" x2="644.6" y2="214.1" stroke="#9c9c9c" stroke-width="0.7" stroke-opacity="0.55"/>
<line x1="692.3" y1="10.5" x2="692.3" y2="214.1" stroke="#9c9c9c" stroke-width="0.7" stroke-opacity="0.55"/>
<line x1="394.7" y1="199.5" x2="708.8" y2="199.5" stroke="#a8a8a8" stroke-width="1.0" stroke-opacity="0.42"/>
<line x1="394.7" y1="174.6" x2="708.8" y2="174.6" stroke="#a8a8a8" stroke-width="1.0" stroke-opacity="0.42"/>
<line x1="394.7" y1="149.7" x2="708.8" y2="149.7" stroke="#a8a8a8" stroke-width="1.0" stroke-opacity="0.42"/>
<line x1="394.7" y1="124.8" x2="708.8" y2="124.8" stroke="#a8a8a8" stroke-width="1.0" stroke-opacity="0.42"/>
<line x1="394.7" y1="99.9" x2="708.8" y2="99.9" stroke="#a8a8a8" stroke-width="1.0" stroke-opacity="0.42"/>
<line x1="394.7" y1="75.0" x2="708.8" y2="75.0" stroke="#a8a8a8" stroke-width="1.0" stroke-opacity="0.42"/>
<line x1="394.7" y1="50.1" x2="708.8" y2="50.1" stroke="#a8a8a8" stroke-width="1.0" stroke-opacity="0.42"/>
<line x1="394.7" y1="25.2" x2="708.8" y2="25.2" stroke="#a8a8a8" stroke-width="1.0" stroke-opacity="0.42"/>
<rect x="394.7" y="10.5" width="314.1" height="203.6" fill="none" stroke="#666666" stroke-width="0.85"/>
<line x1="406.4" y1="214.1" x2="406.4" y2="215.7" stroke="#444" stroke-width="0.8"/>
<text x="406.4" y="222.79999999999998" font-size="6.1" text-anchor="middle" textLength="8.8" lengthAdjust="spacingAndGlyphs" fill="#1c1c1c" stroke="#1c1c1c" stroke-width="0.18">0.4</text>
<line x1="454.0" y1="214.1" x2="454.0" y2="215.7" stroke="#444" stroke-width="0.8"/>
<text x="454.0" y="222.79999999999998" font-size="6.1" text-anchor="middle" textLength="8.8" lengthAdjust="spacingAndGlyphs" fill="#1c1c1c" stroke="#1c1c1c" stroke-width="0.18">0.5</text>
<line x1="501.7" y1="214.1" x2="501.7" y2="215.7" stroke="#444" stroke-width="0.8"/>
<text x="501.7" y="222.79999999999998" font-size="6.1" text-anchor="middle" textLength="8.8" lengthAdjust="spacingAndGlyphs" fill="#1c1c1c" stroke="#1c1c1c" stroke-width="0.18">0.6</text>
<line x1="549.3" y1="214.1" x2="549.3" y2="215.7" stroke="#444" stroke-width="0.8"/>
<text x="549.3" y="222.79999999999998" font-size="6.1" text-anchor="middle" textLength="8.8" lengthAdjust="spacingAndGlyphs" fill="#1c1c1c" stroke="#1c1c1c" stroke-width="0.18">0.7</text>
<line x1="597.0" y1="214.1" x2="597.0" y2="215.7" stroke="#444" stroke-width="0.8"/>
<text x="597.0" y="222.79999999999998" font-size="6.1" text-anchor="middle" textLength="8.8" lengthAdjust="spacingAndGlyphs" fill="#1c1c1c" stroke="#1c1c1c" stroke-width="0.18">0.8</text>
<line x1="644.6" y1="214.1" x2="644.6" y2="215.7" stroke="#444" stroke-width="0.8"/>
<text x="644.6" y="222.79999999999998" font-size="6.1" text-anchor="middle" textLength="8.8" lengthAdjust="spacingAndGlyphs" fill="#1c1c1c" stroke="#1c1c1c" stroke-width="0.18">0.9</text>
<line x1="692.3" y1="214.1" x2="692.3" y2="215.7" stroke="#444" stroke-width="0.8"/>
<text x="692.3" y="222.79999999999998" font-size="6.1" text-anchor="middle" textLength="8.8" lengthAdjust="spacingAndGlyphs" fill="#1c1c1c" stroke="#1c1c1c" stroke-width="0.18">1.0</text>
<line x1="393.09999999999997" y1="199.5" x2="394.7" y2="199.5" stroke="#444" stroke-width="0.8"/>
<text x="390.9" y="201.7" font-size="6.1" text-anchor="end" textLength="12.4" lengthAdjust="spacingAndGlyphs" fill="#1c1c1c" stroke="#1c1c1c" stroke-width="0.18">0.00</text>
<line x1="393.09999999999997" y1="174.6" x2="394.7" y2="174.6" stroke="#444" stroke-width="0.8"/>
<text x="390.9" y="176.8" font-size="6.1" text-anchor="end" textLength="12.4" lengthAdjust="spacingAndGlyphs" fill="#1c1c1c" stroke="#1c1c1c" stroke-width="0.18">0.05</text>
<line x1="393.09999999999997" y1="149.7" x2="394.7" y2="149.7" stroke="#444" stroke-width="0.8"/>
<text x="390.9" y="151.8" font-size="6.1" text-anchor="end" textLength="12.4" lengthAdjust="spacingAndGlyphs" fill="#1c1c1c" stroke="#1c1c1c" stroke-width="0.18">0.10</text>
<line x1="393.09999999999997" y1="124.8" x2="394.7" y2="124.8" stroke="#444" stroke-width="0.8"/>
<text x="390.9" y="127.0" font-size="6.1" text-anchor="end" textLength="12.4" lengthAdjust="spacingAndGlyphs" fill="#1c1c1c" stroke="#1c1c1c" stroke-width="0.18">0.15</text>
<line x1="393.09999999999997" y1="99.9" x2="394.7" y2="99.9" stroke="#444" stroke-width="0.8"/>
<text x="390.9" y="102.0" font-size="6.1" text-anchor="end" textLength="12.4" lengthAdjust="spacingAndGlyphs" fill="#1c1c1c" stroke="#1c1c1c" stroke-width="0.18">0.20</text>
<line x1="393.09999999999997" y1="75.0" x2="394.7" y2="75.0" stroke="#444" stroke-width="0.8"/>
<text x="390.9" y="77.2" font-size="6.1" text-anchor="end" textLength="12.4" lengthAdjust="spacingAndGlyphs" fill="#1c1c1c" stroke="#1c1c1c" stroke-width="0.18">0.25</text>
<line x1="393.09999999999997" y1="50.1" x2="394.7" y2="50.1" stroke="#444" stroke-width="0.8"/>
<text x="390.9" y="52.2" font-size="6.1" text-anchor="end" textLength="12.4" lengthAdjust="spacingAndGlyphs" fill="#1c1c1c" stroke="#1c1c1c" stroke-width="0.18">0.30</text>
<line x1="393.09999999999997" y1="25.2" x2="394.7" y2="25.2" stroke="#444" stroke-width="0.8"/>
<text x="390.9" y="27.4" font-size="6.1" text-anchor="end" textLength="12.4" lengthAdjust="spacingAndGlyphs" fill="#1c1c1c" stroke="#1c1c1c" stroke-width="0.18">0.35</text>
<text x="551.8" y="232" font-size="9.3" text-anchor="middle" textLength="103.7" lengthAdjust="spacingAndGlyphs" fill="#1c1c1c" stroke="#1c1c1c" stroke-width="0.12">IoU between dets and gts</text>
<text transform="translate(374.0 112.3) rotate(-90)" font-size="9.3" text-anchor="middle" textLength="115.6" lengthAdjust="spacingAndGlyphs" fill="#1c1c1c">standard deviation of scores</text>
<rect x="398.4" y="171.4" width="120.0" height="38.3" rx="1.6" fill="#fff" fill-opacity="0.8" stroke="#cfcfcf" stroke-width="0.7"/>
<path d="M410.1 172.7L413.7 178.6L410.1 184.5L406.5 178.6Z" fill="#ee8b8b"/>
<path d="M410.1 186.4L414.3 189.4L412.7 194.4L407.5 194.4L405.9 189.4Z" fill="#6db9a5"/>
<circle cx="410.1" cy="202.6" r="4.25" fill="#93a3dc"/>
<text x="424.7" y="181.6" font-size="9.3" textLength="90.3" lengthAdjust="spacingAndGlyphs" fill="#1c1c1c">occlusion: [0.00, 0.33]</text>
<text x="424.7" y="193.5" font-size="9.3" textLength="90.3" lengthAdjust="spacingAndGlyphs" fill="#1c1c1c">occlusion: [0.33, 0.66]</text>
<text x="424.7" y="205.6" font-size="9.3" textLength="90.3" lengthAdjust="spacingAndGlyphs" fill="#1c1c1c">occlusion: [0.66, 1.00]</text>
<rect x="529.2" y="174.9" width="132.7" height="24.6" fill="#8dcb4e"/>
<text x="541" y="192.1" font-size="14.6" font-weight="bold" fill="#fff" textLength="106" lengthAdjust="spacingAndGlyphs">Lower is better</text>
<path d="M663.3 55.5H669.3V140.6L674.9 135.6L666.3 152.8L657.7 135.6L663.3 140.6Z" fill="#8dcb4e"/>
</g></svg>
<div class="l" style="top:257.10px;word-spacing:-1.206px">Figure 2:<span class="cs"></span> <b>IoU-confidence correlation disturbances (ICD).</b></div>
<div class="l" style="top:289.33px;word-spacing:5.547px">We visualize the confidence score w.r.t the IoU between</div>
<div class="l" style="top:321.56px;word-spacing:4.087px">the predicted box from (He et al. 2017) and ground-truth</div>
<div class="l" style="top:353.79px;word-spacing:4.983px">in CrowdHuman (Shao et al. 2018). First, the IoU range</div>
<div class="l" style="top:386.02px;word-spacing:4.244px">of <span class="m"><span class="bo">[</span>0,<span class="ts"></span>1<span class="bc">]</span></span> are equally divided into 100 bins (each with the</div>
<div class="l" style="top:418.25px;word-spacing:1.974px">length of 0.01) as the horizontal axis. Then, <i>average value</i></div>
<div class="l" style="top:450.48px;word-spacing:1.277px">(left) or <i>standard deviation</i> (right) of confidence scores are</div>
<div class="l" style="top:482.71px;word-spacing:-0.562px">computed within each bin, generating a corresponding point</div>
<div class="l" style="top:514.94px;word-spacing:4.123px">in the coordinate plane. Marker shapes of diamond (<i>red</i>),</div>
<div class="l" style="top:547.17px;word-spacing:0.674px">pentagon (<i>green</i>) and circle (<i>blue</i>) refer to crowdedness de-</div>
<div class="l" style="top:579.40px;word-spacing:2.727px">grees with the occlusion ratio on three ranges of <span class="m"><span class="bo">[</span>0,<span class="ts"></span>0<span class="p">.</span>33<span class="bc">]</span></span>,</div>
<div class="l" style="top:611.63px;word-spacing:5.400px"><span class="m"><span class="bo">[</span>0<span class="p">.</span>33,<span class="ts"></span>0<span class="p">.</span>66<span class="bc">]</span></span> and <span class="m"><span class="bo">[</span>0<span class="p">.</span>66,<span class="ts"></span>1<span class="bc">]</span></span> respectively. On the left figure,</div>
<div class="l" style="top:643.86px;word-spacing:0.535px">the average score curve corresponding to the most crowded</div>
<div class="l" style="top:676.09px;word-spacing:-1.007px">range (blue) are obviously <b>more jittering</b> than the other two</div>
<div class="l" style="top:708.32px;word-spacing:1.104px">curves; On the right figure, the heavier the crowdedness is,</div>
<div class="l" style="top:740.55px;word-spacing:0.625px">the <b>larger</b> the standard deviations are. Both figures suggest</div>
<div class="l" style="top:772.78px;word-spacing:-1.138px">that the IoU-confidence correlation would become more <b>un-</b></div>
<div class="l" style="top:805.01px;word-spacing:0.000px"><b>certain</b> when the crowdedness increases.</div>
</body></html>
